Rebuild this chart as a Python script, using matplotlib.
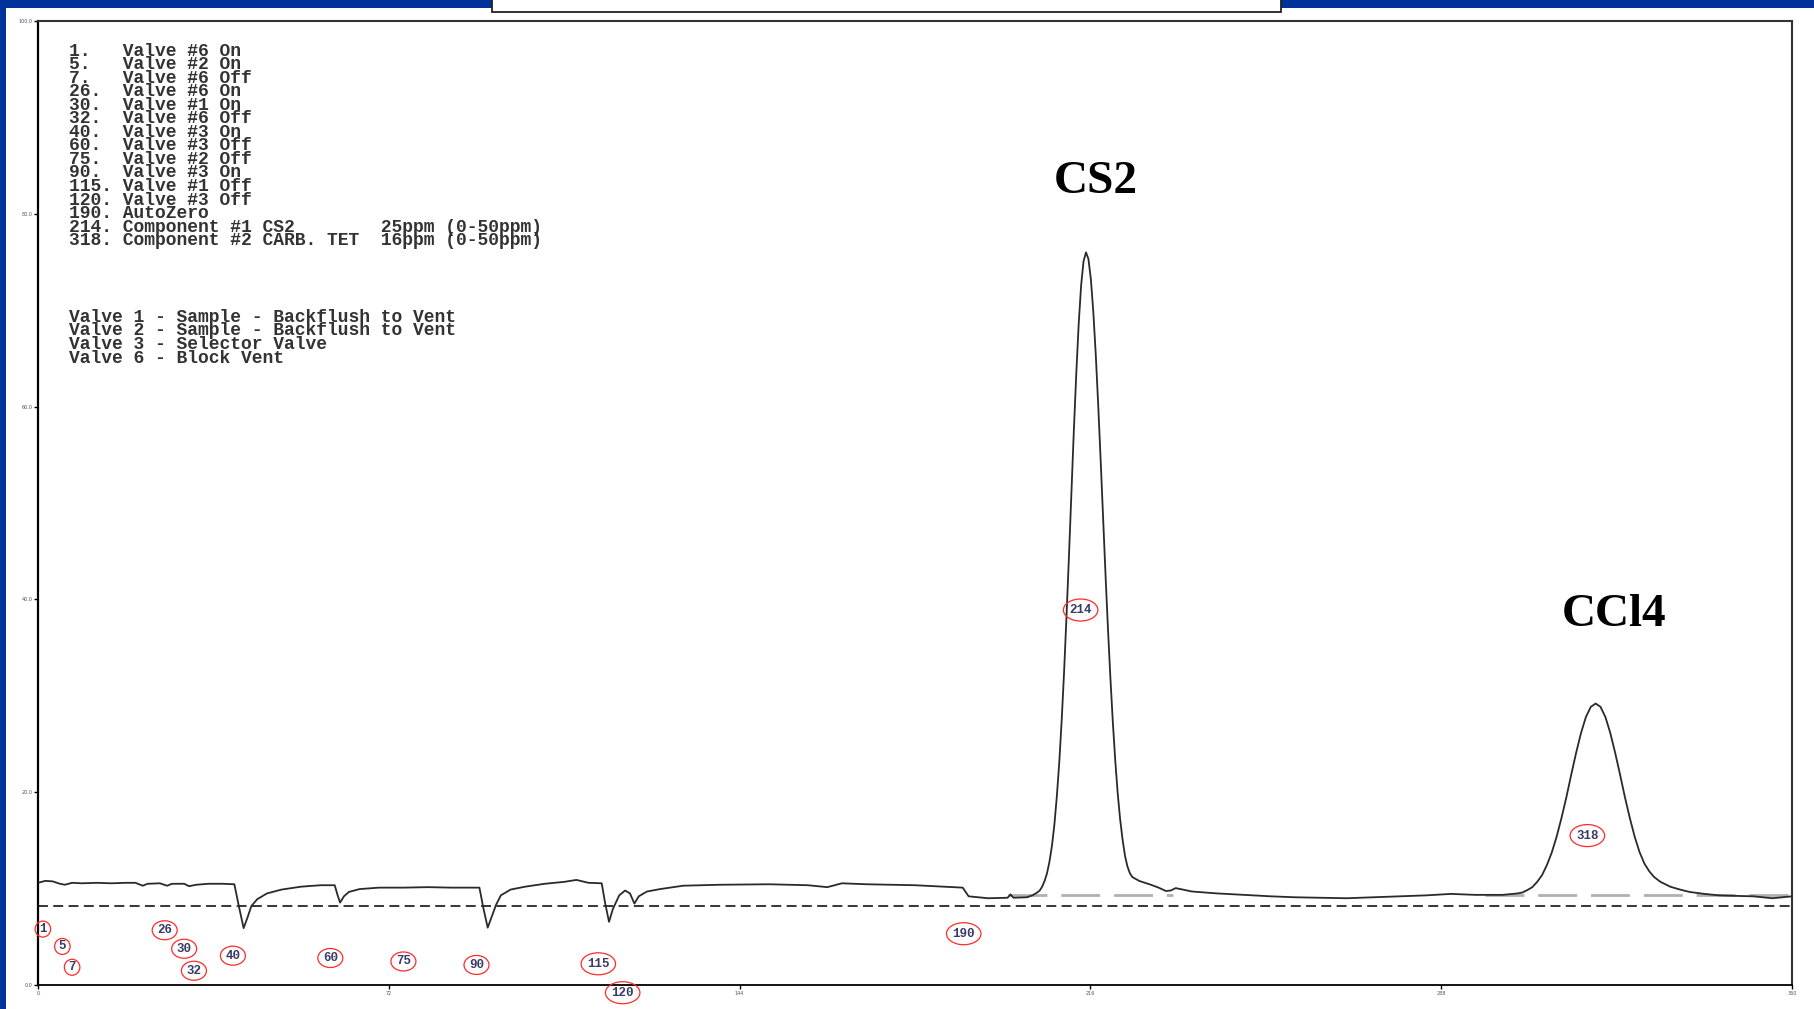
import matplotlib
matplotlib.use('agg')
import matplotlib.pyplot as plt
from matplotlib.patches import Ellipse, Rectangle

# detector trace: time in seconds, signal
time_s = [0, 1.5, 3, 4.5, 5.5, 7, 9, 12, 15, 18, 20, 21.5, 22.5, 25, 26.5, 27.5, 30, 31, 32.5,
          35, 38, 40.3, 41.3, 42.2, 43.0, 43.8, 45, 47, 50, 54, 58, 60.9, 61.5, 62.0, 62.8,
          63.8, 66, 70, 75, 80, 85, 90.6, 91.4, 92.3, 93.2, 94.0, 95, 97, 100, 104, 108,
          110.5, 113, 115.7, 116.4, 117.2, 118.0, 119.3, 120.5, 121.5, 122.4, 123.3, 125,
          127.7, 132.4, 140, 150, 158, 162, 165, 170, 180, 189.8, 191, 195, 199, 199.6,
          200.2, 203, 204.1, 205.1, 205.6, 206.1, 206.6, 207.1, 207.6, 208.1, 208.6, 209.1,
          209.6, 210.1, 210.6, 211.1, 211.6, 212.1, 212.6, 213.1, 213.6, 214.1, 214.6, 215.1,
          215.6, 216.1, 216.6, 217.1, 217.6, 218.1, 218.6, 219.1, 219.6, 220.1, 220.6, 221.1,
          221.6, 222.1, 222.6, 223.1, 223.6, 224.1, 224.6, 226, 228.4, 230, 231.5, 232.5,
          233.5, 234.5, 236.8, 242, 247.5, 253, 258, 263, 268.6, 274, 279.3, 285, 290, 295,
          300.6, 303.7, 304.7, 305.7, 306.7, 307.7, 308.7, 309.7, 310.7, 311.7, 312.7, 313.7,
          314.7, 315.7, 316.7, 317.7, 318.7, 319.7, 320.7, 321.7, 322.7, 323.7, 324.7, 325.7,
          326.7, 327.7, 328.7, 329.7, 330.7, 331.7, 333, 335, 337, 339, 342, 345, 348, 352,
          356, 360]
signal = [10.6, 10.8, 10.75, 10.5, 10.4, 10.6, 10.55, 10.6, 10.55, 10.6, 10.6, 10.3, 10.5,
          10.55, 10.3, 10.5, 10.5, 10.25, 10.4, 10.5, 10.5, 10.45, 8.0, 5.9, 7.0, 8.2, 8.9,
          9.5, 9.9, 10.2, 10.35, 10.35, 9.3, 8.55, 9.2, 9.65, 9.95, 10.1, 10.1, 10.15, 10.1,
          10.1, 8.0, 5.95, 7.2, 8.3, 9.3, 9.9, 10.2, 10.5, 10.7, 10.9, 10.6, 10.55, 8.5, 6.55,
          7.9, 9.3, 9.8, 9.5, 8.45, 9.2, 9.7, 9.95, 10.3, 10.4, 10.45, 10.35, 10.15, 10.55,
          10.45, 10.35, 10.1, 9.2, 9.0, 9.05, 9.4, 9.05, 9.1, 9.3, 9.6, 9.8, 10.2, 10.8, 11.6,
          12.8, 14.4, 16.6, 19.5, 23.0, 27.4, 32.5, 38.3, 44.5, 51.0, 57.5, 63.4, 68.6, 72.6,
          75.1, 76.0, 75.3, 73.2, 69.8, 65.4, 60.2, 54.5, 48.5, 42.6, 37.0, 31.9, 27.3, 23.3,
          19.9, 17.2, 15.1, 13.4, 12.3, 11.6, 11.2, 10.8, 10.4, 10.1, 9.75, 9.8, 10.05, 9.95,
          9.7, 9.5, 9.35, 9.2, 9.1, 9.05, 9.0, 9.1, 9.2, 9.3, 9.45, 9.35, 9.35, 9.5, 9.6, 9.85,
          10.15, 10.7, 11.4, 12.45, 13.75, 15.4, 17.35, 19.5, 21.85, 24.1, 26.15, 27.8, 28.85,
          29.2, 28.85, 27.8, 26.15, 24.1, 21.85, 19.5, 17.35, 15.4, 13.8, 12.6, 11.8, 11.2,
          10.7, 10.2, 9.9, 9.65, 9.45, 9.3, 9.25, 9.2, 9.0, 9.2]

zero_level = 8.2
integration_start = [199, 297]
integration_end = [233, 360]
integration_level = 9.35

# timed events and where their markers sit
event_times = [1, 5, 7, 26, 30, 32, 40, 60, 75, 90, 115, 120, 190, 214, 318]
marker_y = [5.8, 4.0, 1.84, 5.68, 3.76, 1.48, 3.04, 2.8, 2.44, 2.08, 2.2, -0.8, 5.32, 38.9, 15.5]
event_text = ["Valve #6 On", "Valve #2 On", "Valve #6 Off", "Valve #6 On", "Valve #1 On",
              "Valve #6 Off", "Valve #3 On", "Valve #3 Off", "Valve #2 Off", "Valve #3 On",
              "Valve #1 Off", "Valve #3 Off", "AutoZero",
              "Component #1 CS2        25ppm (0-50ppm)",
              "Component #2 CARB. TET  16ppm (0-50ppm)"]
valve_notes = ["Valve 1 - Sample - Backflush to Vent",
               "Valve 2 - Sample - Backflush to Vent",
               "Valve 3 - Selector Valve",
               "Valve 6 - Block Vent"]

peak_names = ["CS2", "CCl4"]
peak_label_x = [217.1, 323.5]
peak_label_y = [83.3, 38.4]

x_ticks = [0, 72, 144, 216, 288, 360]
y_ticks = [0, 20, 40, 60, 80, 100]

W, H = 1814, 1009
fig = plt.figure(figsize=(W / 100, H / 100), dpi=100)
fig.patch.set_facecolor('#003399')

# white slide area and the top of the title box
fig.patches.append(Rectangle((6 / W, 0), 1, 1 - 8 / H, transform=fig.transFigure,
                             facecolor='white', edgecolor='none', zorder=-5))
fig.patches.append(Rectangle((492 / W, 1 - 11.5 / H), 789 / W, 0.05, transform=fig.transFigure,
                             facecolor='white', edgecolor='#222222', lw=1.3, zorder=5))

left, right, bottom, top = 38 / W, 1792 / W, 1 - 985 / H, 1 - 21 / H
ax = fig.add_axes([left, bottom, right - left, top - bottom])
ax.set_xlim(0, 360)
ax.set_ylim(0, 100)
ax.set_facecolor('white')

ax.axhline(zero_level, color='black', lw=1.1, dashes=(6.5, 3.5), zorder=2)
for a, b in zip(integration_start, integration_end):
    ax.plot([a, b], [integration_level, integration_level], color='#b0b0b0', lw=2,
            dashes=(14, 5), zorder=2)
ax.plot(time_s, signal, color='#2a2a2a', lw=1.3, zorder=3)

for name, x, y in zip(peak_names, peak_label_x, peak_label_y):
    ax.text(x, y, name, family='Liberation Serif', fontweight='bold', fontsize=34,
            ha='center', va='center', color='black')

# event markers: red rings with the event time
px_per_s = W * (right - left) / 360
px_per_unit = H * (top - bottom) / 100
for t, y in zip(event_times, marker_y):
    n = len(str(t))
    w_px = 6 + 9.5 * n
    h_px = 13 + 3 * n
    ax.add_patch(Ellipse((t, y), w_px / px_per_s, h_px / px_per_unit, fill=False,
                         edgecolor='#ff2a2a', lw=0.9, clip_on=False, zorder=4))
    ax.text(t, y, str(t), family='Liberation Mono', fontweight='bold', fontsize=9,
            ha='center', va='center', color='#3a3a66', zorder=5)

# event table and valve key
for i, (t, txt) in enumerate(zip(event_times, event_text)):
    line = f"{t}.".ljust(5) + txt
    fig.text(69 / W, 1 - (51 + 13.55 * i) / H, line, family='Liberation Mono',
             fontweight='bold', fontsize=13, color='#333333', va='center', ha='left')
for i, txt in enumerate(valve_notes):
    fig.text(69 / W, 1 - (317 + 13.8 * i) / H, txt, family='Liberation Mono',
             fontweight='bold', fontsize=13, color='#333333', va='center', ha='left')

ax.set_xticks(x_ticks)
ax.set_xticklabels([str(v) for v in x_ticks])
ax.set_yticks(y_ticks)
ax.set_yticklabels([f"{v:.1f}" for v in y_ticks])
ax.tick_params(axis='both', direction='out', length=3, width=1, labelsize=3.5,
               labelcolor='#445577', pad=1)
ax.spines['left'].set_linewidth(1.6)
ax.spines['bottom'].set_linewidth(1.3)
for s in ['top', 'right']:
    ax.spines[s].set_linewidth(1.5)
    ax.spines[s].set_color('#333333')

fig.savefig('out.png', dpi=100)
